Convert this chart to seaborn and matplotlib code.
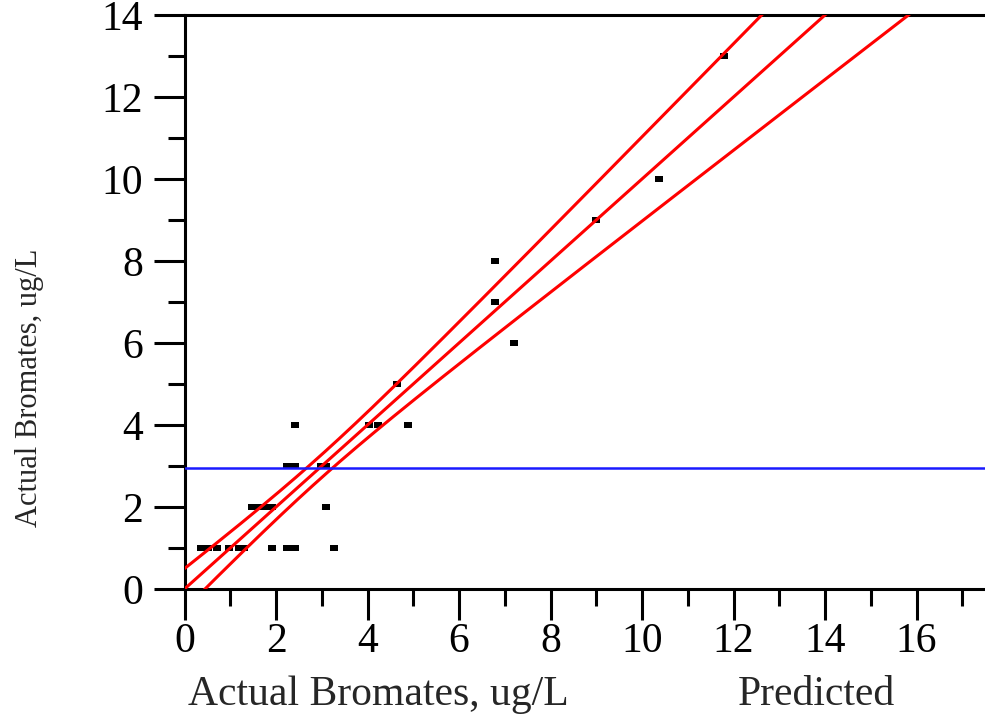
import numpy as np
import pandas as pd
import matplotlib
matplotlib.use("Agg")
import matplotlib.pyplot as plt
import seaborn as sns

# Actual vs. predicted bromate concentrations (ug/L)
predicted = [11.79, 10.37, 8.99, 6.78, 6.78, 7.20, 4.64,
             2.42, 4.03, 4.22, 4.89,
             2.25, 2.42, 2.99, 3.10,
             1.47, 1.62, 1.76, 1.91, 3.09,
             0.35, 0.52, 0.70, 0.97, 1.20, 1.30, 1.91, 2.25, 2.42, 3.26]
actual = [13, 10, 9, 8, 7, 6, 5,
          4, 4, 4, 4,
          3, 3, 3, 3,
          2, 2, 2, 2, 2,
          1, 1, 1, 1, 1, 1, 1, 1, 1, 1]

mean_actual = 2.94          # horizontal reference line (mean of response)
band_halfwidth_at_mean = 0.28
band_spread = 0.14

x_ticks = [0, 2, 4, 6, 8, 10, 12, 14, 16]
y_ticks = [0, 2, 4, 6, 8, 10, 12, 14]

sns.set_style("ticks")
plt.rcParams["font.family"] = ["Liberation Serif", "DejaVu Serif"]

W, H = 985, 723
fig = plt.figure(figsize=(W / 100, H / 100), dpi=100)
left, right, top, bottom = 184.5, 985, 15, 589
ax = fig.add_axes([left / W, 1 - bottom / H, (right - left) / W, (bottom - top) / H])

points = pd.DataFrame({"Predicted": predicted, "Actual": actual})
sns.scatterplot(data=points, x="Predicted", y="Actual", ax=ax,
                marker=[(-4, -3), (4, -3), (4, 3), (-4, 3)], s=38,
                color="black", linewidth=0, zorder=2)

# fit line with its confidence curves
grid = np.linspace(0, 18, 400)
half = np.sqrt(band_halfwidth_at_mean ** 2 + band_spread ** 2 * (grid - mean_actual) ** 2)
curves = pd.DataFrame({"x": np.concatenate([grid, grid, grid]),
                       "y": np.concatenate([grid + half, grid, grid - half]),
                       "curve": ["upper"] * len(grid) + ["fit"] * len(grid) + ["lower"] * len(grid)})
sns.lineplot(data=curves, x="x", y="y", units="curve", estimator=None,
             color="#ff0000", linewidth=2.2, ax=ax, zorder=3, sort=False)

ax.axhline(mean_actual, color="#1a1aff", linewidth=1.8, zorder=4)

ax.set_xlim(0, (right - left) / 45.75)
ax.set_ylim(0, 14)
ax.set_xticks(x_ticks)
ax.set_yticks(y_ticks)
ax.set_xticks(np.arange(1, 18, 2), minor=True)
ax.set_yticks(np.arange(1, 14, 2), minor=True)
ax.tick_params(which="major", length=22, width=2.2, color="black",
               labelsize=30, labelcolor="black")
ax.tick_params(which="minor", length=12, width=2.2, color="black")
ax.tick_params(axis="x", which="major", pad=2)
ax.tick_params(axis="y", which="major", pad=8)
for side in ("left", "bottom", "top"):
    ax.spines[side].set_visible(True)
    ax.spines[side].set_linewidth(2.2)
    ax.spines[side].set_color("black")
ax.spines["right"].set_visible(False)
ax.set_xlabel("")
ax.set_ylabel("")
ax.grid(False)

fig.text(188 / W, 1 - 695 / H, "Actual Bromates, ug/L", fontsize=30,
         ha="left", va="center")
fig.text(738 / W, 1 - 695 / H, "Predicted", fontsize=30, ha="left", va="center")
fig.text(30 / W, 1 - 388 / H, "Actual Bromates, ug/L", fontsize=22,
         rotation=90, ha="center", va="center")

fig.savefig("out.png", dpi=100, facecolor="white")
